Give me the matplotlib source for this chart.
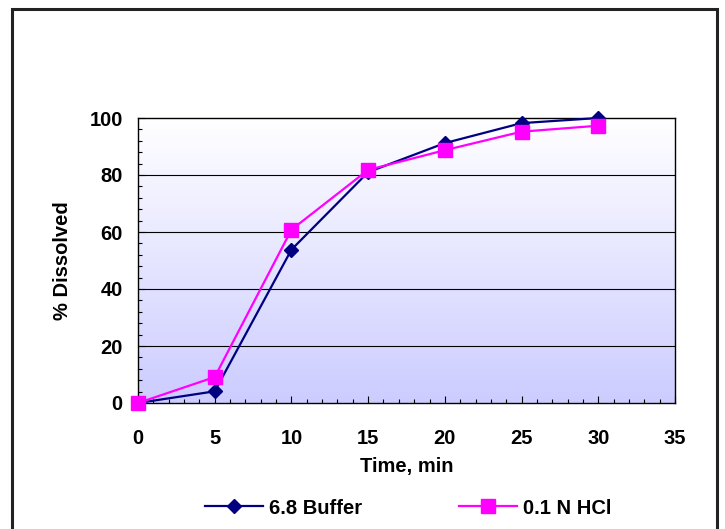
import matplotlib
matplotlib.use("Agg")
import matplotlib.pyplot as plt
import numpy as np
from matplotlib.ticker import MultipleLocator
from matplotlib.patches import Rectangle

time = [0, 5, 10, 15, 20, 25, 30]
buffer68 = [0, 4.1, 53.8, 81.0, 91.2, 98.2, 100.0]
hcl01 = [0, 9.1, 60.8, 81.8, 88.7, 95.2, 97.3]
series_names = ["6.8 Buffer", "0.1 N HCl"]

plt.rcParams['font.family'] = ['Liberation Sans', 'DejaVu Sans']
plt.rcParams['font.weight'] = 'bold'

W, H = 725, 529
fig = plt.figure(figsize=(W / 100, H / 100), dpi=100)
fig.patch.set_facecolor('white')

# outer border
fig.patches.append(Rectangle((12 / W, -0.01), (717 - 12) / W, 1 - 9 / H + 0.01,
                             transform=fig.transFigure, fill=False,
                             edgecolor='#222222', linewidth=2.2, zorder=0))

left, right, top, bottom = 138, 675, 118, 403
ax = fig.add_axes([left / W, 1 - bottom / H, (right - left) / W, (bottom - top) / H])

# gradient background (white at top, lavender at bottom)
grad = np.linspace(0, 1, 256).reshape(-1, 1)
top_c = np.array([1.0, 1.0, 1.0])
bot_c = np.array([204, 204, 255]) / 255
img = top_c[None, None, :] * (1 - grad[:, :, None]) + bot_c[None, None, :] * grad[:, :, None]
ax.imshow(img, extent=[0, 35, 0, 100], origin='upper', aspect='auto', zorder=0)

ax.set_xlim(0, 35)
ax.set_ylim(0, 100)

ax.yaxis.set_major_locator(MultipleLocator(20))
ax.yaxis.set_minor_locator(MultipleLocator(4))
ax.xaxis.set_major_locator(MultipleLocator(5))
ax.xaxis.set_minor_locator(MultipleLocator(1))
ax.tick_params(which='both', direction='in', width=0.8, color='black')
ax.tick_params(which='major', length=5, labelsize=14.5)
ax.tick_params(axis='x', which='major', pad=19)
ax.tick_params(axis='y', which='major', pad=11)
ax.tick_params(which='minor', length=3)
for lab in ax.get_xticklabels() + ax.get_yticklabels():
    lab.set_fontweight('bold')

for y in [20, 40, 60, 80]:
    ax.axhline(y, color='black', linewidth=0.8, zorder=1)

for s in ax.spines.values():
    s.set_linewidth(1.0)
    s.set_color('black')

ax.plot(time, buffer68, color='#000080', marker='D', markersize=7.5,
        linewidth=1.6, label=series_names[0], zorder=3, clip_on=False)
ax.plot(time, hcl01, color='#FF00FF', marker='s', markersize=10,
        linewidth=1.6, label=series_names[1], zorder=4, clip_on=False)

ax.set_xlabel('Time, min', fontsize=14.5, fontweight='bold', labelpad=6.5)
ax.set_ylabel('% Dissolved', fontsize=14.5, fontweight='bold', labelpad=12.5)

leg = fig.legend(loc='center', bbox_to_anchor=(0.563, 1 - 508 / H), ncol=2,
                 frameon=False, handlelength=2.9, columnspacing=4.8,
                 handletextpad=0.3, prop={'weight': 'bold', 'size': 14.5})

fig.savefig('out.png', dpi=100, facecolor='white')
